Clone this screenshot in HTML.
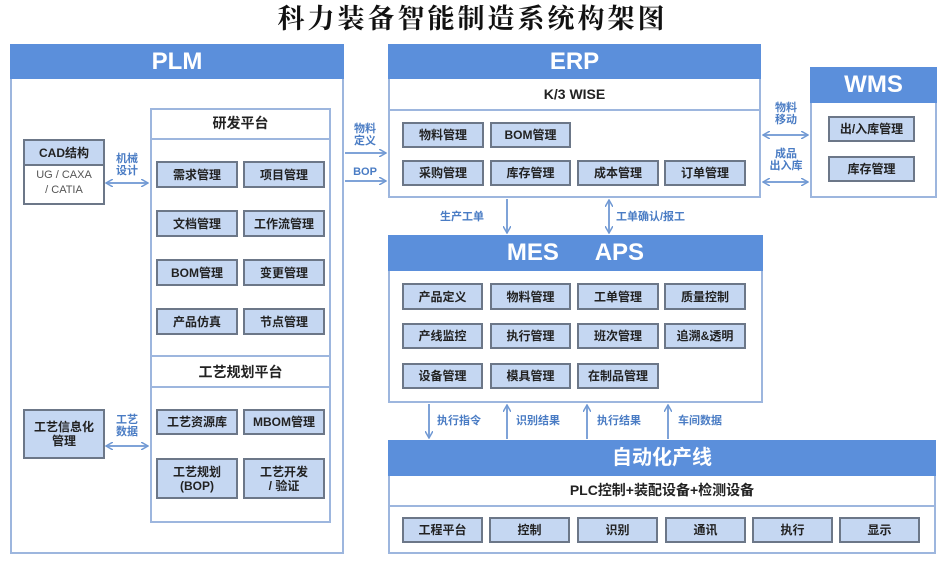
<!DOCTYPE html>
<html><head><meta charset="utf-8"><style>
body{margin:0;width:945px;height:562px;background:#fff;position:relative;overflow:hidden;font-family:"Liberation Sans","Noto Sans CJK SC",sans-serif;}
div{position:absolute;box-sizing:border-box;}
.title{left:0;width:945px;top:2px;text-align:center;font-family:"Liberation Serif","Noto Serif CJK SC",serif;font-size:27px;letter-spacing:3px;color:#111;line-height:34px;font-weight:bold;}
.box{border:2px solid #9db6de;background:#fff;}
.hd{background:#5b8fdb;color:#fff;font-weight:bold;text-align:center;}
.it{background:#c5d7f2;border:2px solid #6c7788;color:#222;font-weight:bold;font-size:12px;text-align:center;display:flex;align-items:center;justify-content:center;line-height:14px;}
.sub{border-bottom:2px solid #9db6de;text-align:center;font-weight:bold;color:#222;}
.lb{color:#4a7cc4;font-size:11px;font-weight:bold;line-height:12px;text-align:center;}
</style></head><body>
<div class="title">科力装备智能制造系统构架图</div>

<div class="box" style="left:10px;top:44px;width:334px;height:510px;"></div>
<div class="hd" style="left:10px;top:44px;width:334px;height:35px;font-size:24px;line-height:35px;">PLM</div>
<div class="box" style="left:150px;top:108px;width:181px;height:415px;"></div>
<div class="sub" style="left:150px;top:108px;width:181px;height:32px;font-size:14px;line-height:30px;">研发平台</div>
<div class="sub" style="left:150px;top:355px;width:181px;height:33px;border-top:2px solid #9db6de;font-size:14px;line-height:30px;">工艺规划平台</div>
<div class="it" style="left:156px;top:161px;width:82px;height:27px;">需求管理</div>
<div class="it" style="left:243px;top:161px;width:82px;height:27px;">项目管理</div>
<div class="it" style="left:156px;top:210px;width:82px;height:27px;">文档管理</div>
<div class="it" style="left:243px;top:210px;width:82px;height:27px;">工作流管理</div>
<div class="it" style="left:156px;top:259px;width:82px;height:27px;">BOM管理</div>
<div class="it" style="left:243px;top:259px;width:82px;height:27px;">变更管理</div>
<div class="it" style="left:156px;top:308px;width:82px;height:27px;">产品仿真</div>
<div class="it" style="left:243px;top:308px;width:82px;height:27px;">节点管理</div>
<div class="it" style="left:156px;top:409px;width:82px;height:26px;">工艺资源库</div>
<div class="it" style="left:243px;top:409px;width:82px;height:26px;">MBOM管理</div>
<div class="it" style="left:156px;top:458px;width:82px;height:41px;">工艺规划<br>(BOP)</div>
<div class="it" style="left:243px;top:458px;width:82px;height:41px;">工艺开发<br>/ 验证</div>

<div style="left:23px;top:139px;width:82px;height:66px;border:2px solid #6c7788;background:#fff;"></div>
<div class="it" style="left:23px;top:139px;width:82px;height:27px;font-size:12px;">CAD结构</div>
<div style="left:25px;top:168px;width:78px;text-align:center;font-size:11px;line-height:15px;color:#555;">UG / CAXA<br>/ CATIA</div>
<div class="it" style="left:23px;top:409px;width:82px;height:50px;">工艺信息化<br>管理</div>

<div class="lb" style="left:110px;top:153px;width:34px;">机械<br>设计</div>
<div class="lb" style="left:110px;top:414px;width:34px;">工艺<br>数据</div>
<div class="lb" style="left:346px;top:123px;width:38px;">物料<br>定义</div>
<div class="lb" style="left:346px;top:166px;width:38px;">BOP</div>

<div class="box" style="left:388px;top:44px;width:373px;height:154px;"></div>
<div class="hd" style="left:388px;top:44px;width:373px;height:35px;font-size:24px;line-height:35px;">ERP</div>
<div class="sub" style="left:388px;top:79px;width:373px;height:32px;font-size:14px;line-height:30px;">K/3 WISE</div>
<div class="it" style="left:402px;top:122px;width:82px;height:26px;">物料管理</div>
<div class="it" style="left:490px;top:122px;width:81px;height:26px;">BOM管理</div>
<div class="it" style="left:402px;top:160px;width:82px;height:26px;">采购管理</div>
<div class="it" style="left:490px;top:160px;width:81px;height:26px;">库存管理</div>
<div class="it" style="left:577px;top:160px;width:82px;height:26px;">成本管理</div>
<div class="it" style="left:664px;top:160px;width:82px;height:26px;">订单管理</div>

<div class="box" style="left:810px;top:67px;width:127px;height:131px;"></div>
<div class="hd" style="left:810px;top:67px;width:127px;height:36px;font-size:24px;line-height:36px;">WMS</div>
<div class="it" style="left:828px;top:116px;width:87px;height:26px;">出/入库管理</div>
<div class="it" style="left:828px;top:156px;width:87px;height:26px;">库存管理</div>
<div class="lb" style="left:764px;top:102px;width:44px;">物料<br>移动</div>
<div class="lb" style="left:764px;top:148px;width:44px;">成品<br>出入库</div>

<div class="lb" style="left:440px;top:211px;width:60px;text-align:left;">生产工单</div>
<div class="lb" style="left:616px;top:211px;width:90px;text-align:left;">工单确认/报工</div>

<div class="box" style="left:388px;top:235px;width:375px;height:168px;"></div>
<div class="hd" style="left:388px;top:235px;width:375px;height:36px;font-size:24px;line-height:36px;word-spacing:30px;">MES APS</div>
<div class="it" style="left:402px;top:283px;width:81px;height:27px;">产品定义</div>
<div class="it" style="left:490px;top:283px;width:81px;height:27px;">物料管理</div>
<div class="it" style="left:577px;top:283px;width:82px;height:27px;">工单管理</div>
<div class="it" style="left:664px;top:283px;width:82px;height:27px;">质量控制</div>
<div class="it" style="left:402px;top:323px;width:81px;height:26px;">产线监控</div>
<div class="it" style="left:490px;top:323px;width:81px;height:26px;">执行管理</div>
<div class="it" style="left:577px;top:323px;width:82px;height:26px;">班次管理</div>
<div class="it" style="left:664px;top:323px;width:82px;height:26px;">追溯&amp;透明</div>
<div class="it" style="left:402px;top:363px;width:81px;height:26px;">设备管理</div>
<div class="it" style="left:490px;top:363px;width:81px;height:26px;">模具管理</div>
<div class="it" style="left:577px;top:363px;width:82px;height:26px;">在制品管理</div>

<div class="lb" style="left:437px;top:415px;width:60px;text-align:left;">执行指令</div>
<div class="lb" style="left:516px;top:415px;width:60px;text-align:left;">识别结果</div>
<div class="lb" style="left:597px;top:415px;width:60px;text-align:left;">执行结果</div>
<div class="lb" style="left:678px;top:415px;width:60px;text-align:left;">车间数据</div>

<div class="box" style="left:388px;top:440px;width:548px;height:114px;"></div>
<div class="hd" style="left:388px;top:440px;width:548px;height:36px;font-size:20px;line-height:36px;">自动化产线</div>
<div class="sub" style="left:388px;top:476px;width:548px;height:31px;font-size:14px;line-height:29px;">PLC控制+装配设备+检测设备</div>
<div class="it" style="left:402px;top:517px;width:81px;height:26px;">工程平台</div>
<div class="it" style="left:489px;top:517px;width:81px;height:26px;">控制</div>
<div class="it" style="left:577px;top:517px;width:81px;height:26px;">识别</div>
<div class="it" style="left:665px;top:517px;width:81px;height:26px;">通讯</div>
<div class="it" style="left:752px;top:517px;width:81px;height:26px;">执行</div>
<div class="it" style="left:839px;top:517px;width:81px;height:26px;">显示</div>

<svg style="position:absolute;left:0;top:0" width="945" height="562">
<defs><marker id="a" markerWidth="8" markerHeight="8" refX="7" refY="4" orient="auto-start-reverse" markerUnits="userSpaceOnUse"><path d="M0,0 L7,4 L0,8" fill="none" stroke="#6f98d3" stroke-width="1.5"/></marker></defs>
<g stroke="#7fa3d8" stroke-width="2" fill="none">
<line x1="106" y1="183" x2="148" y2="183" marker-start="url(#a)" marker-end="url(#a)"/>
<line x1="106" y1="446" x2="148" y2="446" marker-start="url(#a)" marker-end="url(#a)"/>
<line x1="345" y1="153" x2="386" y2="153" marker-end="url(#a)"/>
<line x1="345" y1="181" x2="386" y2="181" marker-end="url(#a)"/>
<line x1="763" y1="135" x2="808" y2="135" marker-start="url(#a)" marker-end="url(#a)"/>
<line x1="763" y1="182" x2="808" y2="182" marker-start="url(#a)" marker-end="url(#a)"/>
<line x1="507" y1="199" x2="507" y2="233" marker-end="url(#a)"/>
<line x1="609" y1="200" x2="609" y2="233" marker-start="url(#a)" marker-end="url(#a)"/>
<line x1="429" y1="404" x2="429" y2="438" marker-end="url(#a)"/>
<line x1="507" y1="439" x2="507" y2="405" marker-end="url(#a)"/>
<line x1="587" y1="439" x2="587" y2="405" marker-end="url(#a)"/>
<line x1="668" y1="439" x2="668" y2="405" marker-end="url(#a)"/>
</g></svg>
</body></html>
